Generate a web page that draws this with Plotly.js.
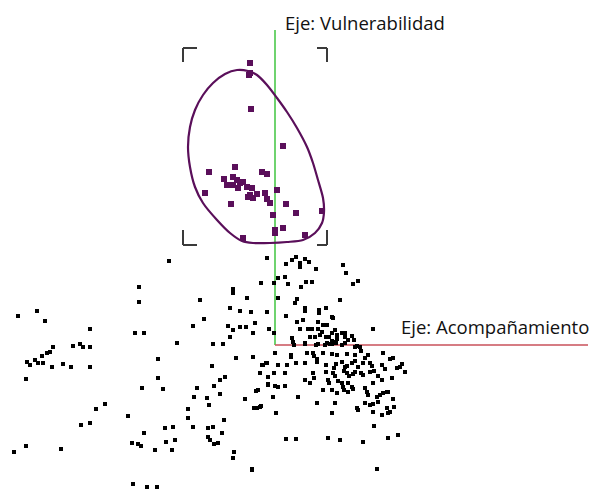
<!DOCTYPE html>
<html><head><meta charset="utf-8">
<script src="https://cdn.plot.ly/plotly-3.0.1.min.js"></script>
<style>html,body{margin:0;padding:0;background:#fff}#chart{width:595px;height:489px}</style>
</head><body><div id="chart"></div>
<script>
// Factor-map coordinates (in picture units, y grows downward)
const blackX = [18,37,45,90,53,50,47,42,35,27,30,38,43,52,63,71,90,73,80,83,90,26,105,96,90,81,26,14,61,
169,267,139,233,233,261,200,139,247,230,240,251,267,204,193,228,233,240,246,253,255,269,135,144,230,177,213,223,236,253,158,266,263,212,225,220,214,158,268,268,260,142,163,197,194,220,207,209,245,256,254,261,128,188,188,224,144,165,173,193,208,213,222,132,138,141,166,175,208,210,214,218,155,172,234,233,252,133,147,157,
296,292,286,300,300,305,309,316,343,346,358,353,285,288,274,278,306,312,301,278,297,295,340,267,305,305,319,319,326,286,332,333,303,297,318,323,327,300,308,312,318,335,322,320,332,269,274,373,292,293,310,315,326,329,337,342,345,345,348,352,354,332,335,337,327,330,357,360,305,318,
294,305,316,325,332,336,342,345,355,275,291,291,307,313,314,323,332,337,347,355,361,368,365,383,390,393,262,267,278,287,296,305,317,317,326,336,342,347,352,355,358,363,370,372,382,385,402,400,397,405,260,274,285,313,314,326,334,333,335,345,344,347,349,353,355,361,363,370,374,378,392,268,275,278,285,305,310,328,329,338,342,348,343,344,352,353,365,367,368,373,382,387,383,388,380,377,258,332,337,323,348,273,298,393,317,335,365,370,373,378,260,257,357,358,387,394,276,332,373,382,388,390,374,286,296,328,340,363,388,398,252,377];
const blackY = [316,311,321,329,347,352,353,356,360,362,365,363,363,367,364,367,367,346,344,347,347,379,404,409,423,425,446,452,449,
261,258,287,289,293,283,300,302,298,308,311,312,312,319,326,326,330,327,327,333,323,329,333,333,337,343,344,344,358,357,359,363,365,366,377,380,386,378,377,385,373,388,389,388,397,394,398,405,399,391,408,406,416,409,418,420,433,428,427,427,428,427,433,443,444,446,442,440,437,440,444,443,450,450,452,458,469,484,487,487,
257,260,264,263,267,259,262,269,265,273,281,284,277,284,283,278,282,282,287,298,299,303,300,312,308,311,310,313,308,316,317,318,320,322,322,325,325,329,329,329,329,330,332,335,333,329,333,329,338,342,337,337,337,337,335,333,333,337,340,336,340,341,342,339,343,344,346,347,343,344,
345,344,345,345,344,343,345,343,347,353,355,357,353,353,356,353,354,355,354,355,351,355,358,353,359,358,365,363,365,365,363,363,362,359,365,364,362,366,363,361,367,363,363,366,365,369,364,367,368,372,373,373,373,373,378,372,368,373,376,367,371,373,376,374,372,373,375,372,371,376,378,384,386,387,386,380,383,380,383,381,383,383,387,390,387,389,388,392,395,383,380,392,393,392,395,397,390,390,393,390,392,397,397,399,403,403,403,405,404,402,407,408,408,410,408,407,413,413,412,415,413,412,426,439,439,438,440,442,438,435,470,469];
const clusterX = [250,250,249,251,283,209,235,262,267,224,227,233,237,240,243,247,233,238,252,205,248,253,250,257,265,277,267,270,231,286,273,296,322,275,275,283,243,305];
const clusterY = [63,73,75,109,146,172,167,172,174,179,185,177,180,183,182,187,185,188,188,193,197,198,195,194,193,190,199,203,204,204,215,213,211,230,233,228,238,235];
const contourX = [237,248,257,267,277,287,297,307,313,318,323,324,322,315,303,287,270,253,242,230,217,203,195,190,188,190,195,203,213,225,237];
const contourY = [70,71,75,85,98,112,128,147,163,180,198,212,223,233,240,242,243,243,241,233,220,203,187,167,147,127,110,95,83,74,70];
const bracketX = [183,197,null,183,183,null,317,327,null,327,327,null,183,183,null,183,197,null,327,327,null,327,317];
const bracketY = [48,48,null,48,62,null,48,48,null,48,62,null,230,245,null,245,245,null,230,245,null,245,245];
const vAxisX = [275,275], vAxisY = [30,345];
const hAxisX = [275,588], hAxisY = [345,345];
const axisLabels = ["Eje: Vulnerabilidad","Eje: Acompañamiento"];

const traces = [
  {x:bracketX,y:bracketY,mode:'lines',line:{color:'#3a3a3a',width:2},hoverinfo:'skip'},
  {x:vAxisX,y:vAxisY,mode:'lines',line:{color:'#6fd36f',width:2},hoverinfo:'skip'},
  {x:hAxisX,y:hAxisY,mode:'lines',line:{color:'#c8505a',width:1.5},hoverinfo:'skip'},
  {x:blackX,y:blackY,mode:'markers',marker:{symbol:'square',size:4,color:'#000'},hoverinfo:'skip'},
  {x:contourX,y:contourY,mode:'lines',line:{color:'#5a0f5a',width:2.2,shape:'spline',smoothing:0.8},hoverinfo:'skip'},
  {x:clusterX,y:clusterY,mode:'markers',marker:{symbol:'square',size:6,color:'#5a0f5a'},hoverinfo:'skip'}
];
const layout = {
  width:595,height:489,margin:{l:0,r:0,t:0,b:0},showlegend:false,
  paper_bgcolor:'#fff',plot_bgcolor:'#fff',
  xaxis:{range:[0,595],visible:false,fixedrange:true},
  yaxis:{range:[489,0],visible:false,fixedrange:true},
  annotations:[
    {x:283,y:22,xref:'x',yref:'y',text:axisLabels[0],showarrow:false,xanchor:'left',yanchor:'middle',font:{family:'"Open Sans", sans-serif',size:18.5,color:'#111'}},
    {x:399,y:326,xref:'x',yref:'y',text:axisLabels[1],showarrow:false,xanchor:'left',yanchor:'middle',font:{family:'"Open Sans", sans-serif',size:18.5,color:'#111'}}
  ]
};
Plotly.newPlot('chart',traces,layout,{staticPlot:true,displayModeBar:false});
</script></body></html>
